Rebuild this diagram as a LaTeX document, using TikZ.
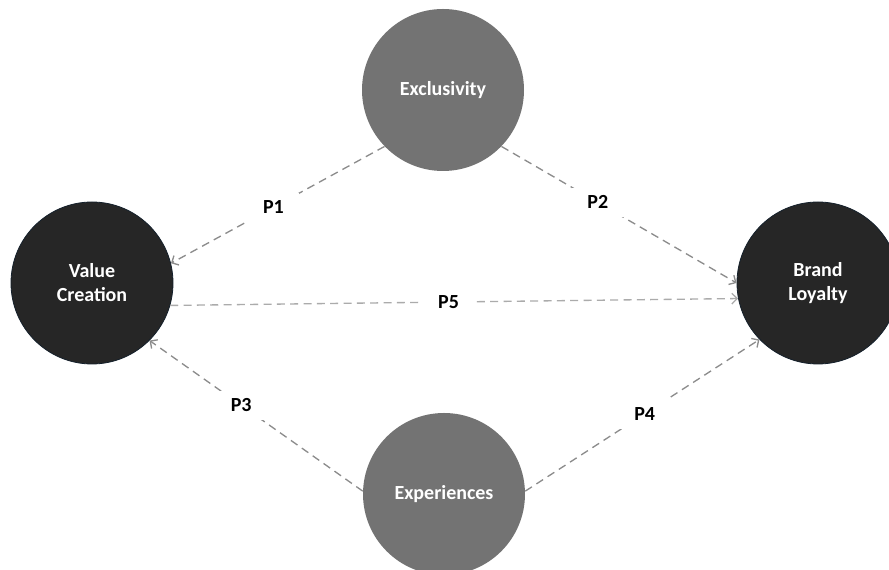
\documentclass[tikz,border=0pt]{standalone}
\usepackage{fontspec}
\setmainfont{Carlito}
\usetikzlibrary{arrows.meta}
\definecolor{darkfill}{HTML}{262626}
\definecolor{darkrim}{HTML}{14202B}
\definecolor{midfill}{HTML}{737373}
\definecolor{linkgray}{HTML}{8C8C8C}
\definecolor{lightlink}{HTML}{ABABAB}
\begin{document}
\begin{tikzpicture}[
        x=0.75pt, y=0.75pt,
        cnode/.style={circle, minimum size=121.5pt, inner sep=0pt, align=center, text=white, font=\fontsize{15}{18}\selectfont\bfseries},
        outcome/.style={cnode, fill=darkfill, draw=darkrim, line width=0.6pt},
        driver/.style={cnode, fill=midfill},
        link/.style={draw=linkgray, dash pattern=on 6pt off 4pt, line width=1pt, -{Straight Barb[length=4pt,width=8pt]}},
        plabel/.style={fill=white, inner sep=0pt, minimum width=39pt, minimum height=22pt, font=\fontsize{15}{18}\selectfont\bfseries}
    ]
    \useasboundingbox (0,0) rectangle (889,570);

    % --- constructs ---
    \node[driver] (excl) at (443, 480) {Exclusivity};
    \node[driver] (exper) at (444, 76) {Experiences};
    \node[outcome] (value) at (92, 287) {Value\\Creation};
    \node[outcome] (brand) at (818, 287) {Brand\\Loyalty};

    % --- propositions ---
    \draw[link] (excl.224) -- node[plabel, pos=0.52] (p1) {P1} (value.14);
    \draw[link] (excl.316) -- node[plabel, pos=0.41] (p2) {P2} (brand.180);
    \draw[link] (exper.178) -- node[plabel, pos=0.57] (p3) {P3} (value.315);
    \draw[link] (exper.2) -- node[plabel, pos=0.51] (p4) {P4} (brand.224);
    \draw[link, draw=lightlink] (value.344) -- node[plabel, pos=0.49] (p5) {P5} (brand.191);
\end{tikzpicture}
\end{document}
